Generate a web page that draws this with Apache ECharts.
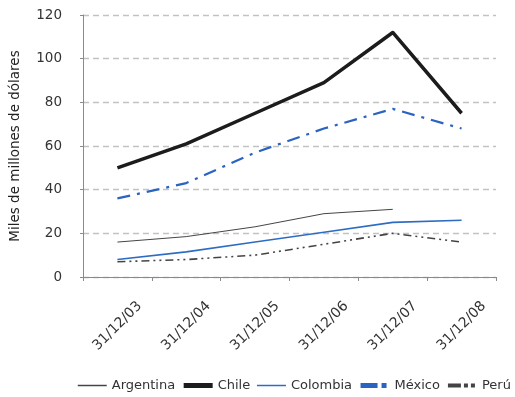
<!DOCTYPE html>
<html>
<head>
<meta charset="utf-8">
<script src="https://cdn.jsdelivr.net/npm/echarts@6/dist/echarts.min.js"></script>
<style>
  html, body { margin: 0; padding: 0; background: #fff; }
  #chart { width: 515px; height: 397px; }
</style>
</head>
<body>
<div id="chart"></div>
<script>
// Fechas de cierre (categorías del eje X)
const fechas = ['31/12/03', '31/12/04', '31/12/05', '31/12/06', '31/12/07', '31/12/08'];

// Miles de millones de dólares por país
const argentina = [16, 18.5, 23, 29, 31, null];
const chile     = [50, 61, 75, 89, 112, 75];
const colombia  = [8, 11.5, 16, 20.5, 25, 26];
const mexico    = [36, 43, 57, 68, 77, 68];
const peru      = [7, 8, 10, 15, 20, 16];

// Marcas del eje Y
const yMin = 0, yMax = 120, yPaso = 20;

const FONT = 'DejaVu Sans';

const chart = echarts.init(document.getElementById('chart'), null, { renderer: 'canvas' });

function serie(name, data, color, width, type) {
  return {
    name: name,
    type: 'line',
    data: data,
    symbol: 'none',
    connectNulls: false,
    lineStyle: { color: color, width: width, type: type, cap: 'butt', join: 'round' },
    itemStyle: { color: color },
    emphasis: { disabled: true },
    animation: false
  };
}

// Muestras de la leyenda: solo la línea, sin símbolo
const sinSimbolo = { color: 'transparent', borderColor: 'transparent', borderWidth: 0 };

chart.setOption({
  backgroundColor: '#ffffff',
  animation: false,
  grid: { left: 83, right: 19, top: 15, bottom: 120, containLabel: false, outerBoundsMode: 'none' },
  legend: {
    left: 72,
    top: 374,
    width: 900,
    itemWidth: 29,
    itemHeight: 10,
    itemGap: 6,
    textStyle: { fontFamily: FONT, fontSize: 13, color: '#333' },
    itemStyle: sinSimbolo,
    data: [
      { name: 'Argentina', itemStyle: sinSimbolo, lineStyle: { width: 1.5 } },
      { name: 'Chile', itemStyle: sinSimbolo, lineStyle: { width: 5 } },
      { name: 'Colombia', itemStyle: sinSimbolo, lineStyle: { width: 1.5 } },
      { name: 'México', itemStyle: sinSimbolo, lineStyle: { width: 5, type: [17, 4, 5, 4] } },
      { name: 'Perú', itemStyle: sinSimbolo, lineStyle: { width: 4, type: [13, 3, 4, 3, 4, 3] } }
    ]
  },
  xAxis: {
    type: 'category',
    data: fechas,
    boundaryGap: true,
    axisLine: { lineStyle: { color: '#8a8a8a', width: 1 } },
    axisTick: { show: true, alignWithLabel: false, length: 4, lineStyle: { color: '#8a8a8a' } },
    axisLabel: {
      rotate: 45,
      margin: 49,
      align: 'center',
      verticalAlign: 'middle',
      fontFamily: FONT,
      fontSize: 14,
      color: '#333'
    },
    splitLine: { show: false }
  },
  yAxis: {
    type: 'value',
    min: yMin,
    max: yMax,
    interval: yPaso,
    name: 'Miles de millones de dólares',
    nameLocation: 'middle',
    nameGap: 61,
    nameRotate: 90,
    nameTextStyle: { fontFamily: FONT, fontSize: 13.5, color: '#222' },
    axisLine: { show: true, lineStyle: { color: '#8a8a8a', width: 1 } },
    axisTick: { show: true, length: 3, lineStyle: { color: '#8a8a8a' } },
    axisLabel: { margin: 21, fontFamily: FONT, fontSize: 13.5, color: '#333' },
    splitLine: { show: true, lineStyle: { color: '#c2c2c2', width: 1.4, type: [6, 4] } }
  },
  series: [
    serie('Argentina', argentina, '#454545', 1, 'solid'),
    serie('Chile', chile, '#1c1c1c', 3.5, 'solid'),
    serie('Colombia', colombia, '#2e6cc4', 1.6, 'solid'),
    serie('México', mexico, '#2a63c0', 2.2, [13, 7, 3, 7]),
    serie('Perú', peru, '#444444', 1.6, [8, 4, 2, 4, 2, 4])
  ]
});
</script>
</body>
</html>
